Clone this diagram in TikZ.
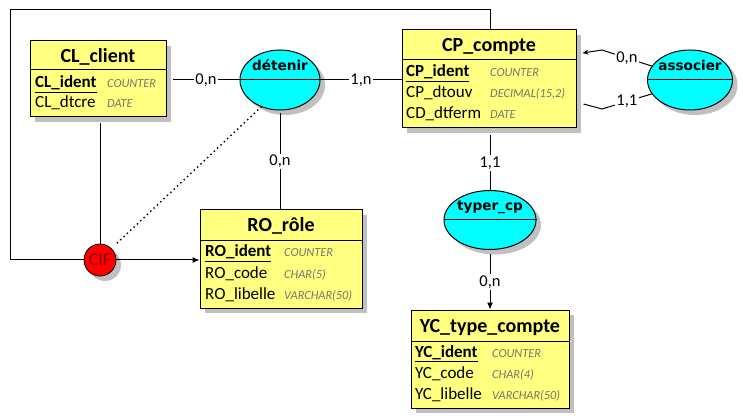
\documentclass[tikz,border=0pt]{standalone}
\usepackage{fontspec}
\setmainfont{Carlito}
\newfontfamily\assocfont{DejaVu Sans}
\usetikzlibrary{shapes.geometric,shadows,arrows.meta,calc}
\definecolor{entfill}{RGB}{255,255,128}
\definecolor{assocfill}{RGB}{0,255,255}
\definecolor{ciffill}{RGB}{255,0,0}
\definecolor{ciftext}{RGB}{140,0,0}
\definecolor{typegray}{RGB}{118,118,110}
\definecolor{shadowgray}{RGB}{192,192,192}
\begin{document}
\begin{tikzpicture}[x=1pt,y=-1pt,
  shadowed/.style={drop shadow={shadow xshift=5pt,shadow yshift=-5pt,fill=shadowgray,opacity=1}},
  entity/.style={rectangle,draw=black,line width=1pt,fill=entfill,inner sep=0pt,shadowed},
  sep/.style={line width=1pt},
  etitle/.style={anchor=base,inner sep=0pt,font=\bfseries\fontsize{20}{22}\selectfont},
  attr/.style={anchor=base west,inner sep=0pt,font=\fontsize{17}{19}\selectfont},
  ident/.style={attr,font=\bfseries\fontsize{17}{19}\selectfont},
  typ/.style={anchor=base west,inner sep=0pt,text=typegray,font=\itshape\fontsize{12.3}{13}\selectfont},
  assoc/.style={ellipse,draw=black,line width=1pt,fill=assocfill,inner sep=0pt,shadowed},
  aname/.style={anchor=base,inner sep=0pt,font=\assocfont\bfseries\fontsize{13.6}{15}\selectfont},
  card/.style={fill=white,inner sep=1.5pt,font=\fontsize{16.5}{18}\selectfont},
  link/.style={line width=1pt},
  cifnode/.style={circle,draw=black,line width=0.8pt,fill=ciffill,minimum size=32pt,inner sep=0pt,shadowed,text=ciftext,font=\fontsize{18}{20}\selectfont}
]
\useasboundingbox[fill=white] (0,0) rectangle (743,419);

% ---------- entities ----------
% CL_client
\node[entity,minimum width=136pt,minimum height=76pt] (cl) at (98,79) {};
\draw[sep] (cl.west |- 0,70) -- (cl.east |- 0,70);
\node[etitle] (cltitle) at (98,63) {CL\_client};
\node[ident] (clid) at (35,88) {\underline{CL\_ident}};
\node[typ] (clidt) at (107,88) {COUNTER};
\node[attr] (cldt) at (35,108) {CL\_dtcre};
\node[typ] (cldtt) at (107,108) {DATE};

% CP_compte
\node[entity,minimum width=174pt,minimum height=98pt] (cp) at (489,79) {};
\draw[sep] (cp.west |- 0,60) -- (cp.east |- 0,60);
\node[etitle] (cptitle) at (489,52) {CP\_compte};
\node[ident] (cpid) at (406,77) {\underline{CP\_ident}};
\node[typ] (cpidt) at (490,77) {COUNTER};
\node[attr] (cpou) at (406,98) {CP\_dtouv};
\node[typ] (cpout) at (490,98) {DECIMAL(15,2)};
\node[attr] (cpfe) at (406,119) {CD\_dtferm};
\node[typ] (cpfet) at (490,119) {DATE};

% RO_role
\node[entity,minimum width=162pt,minimum height=98pt] (ro) at (281,259) {};
\draw[sep] (ro.west |- 0,241) -- (ro.east |- 0,241);
\node[etitle] (rotitle) at (281,232) {RO\_rôle};
\node[ident] (roid) at (205,257) {\underline{RO\_ident}};
\node[typ] (roidt) at (284,257) {COUNTER};
\node[attr] (roco) at (205,278) {RO\_code};
\node[typ] (rocot) at (284,278) {CHAR(5)};
\node[attr] (roli) at (205,299) {RO\_libelle};
\node[typ] (rolit) at (284,299) {VARCHAR(50)};

% YC_type_compte
\node[entity,minimum width=158pt,minimum height=98pt] (yc) at (490,359) {};
\draw[sep] (yc.west |- 0,341) -- (yc.east |- 0,341);
\node[etitle] (yctitle) at (490,332) {YC\_type\_compte};
\node[ident] (ycid) at (415,357) {\underline{YC\_ident}};
\node[typ] (ycidt) at (492,357) {COUNTER};
\node[attr] (ycco) at (415,378) {YC\_code};
\node[typ] (yccot) at (492,378) {CHAR(4)};
\node[attr] (ycli) at (415,399) {YC\_libelle};
\node[typ] (yclit) at (492,399) {VARCHAR(50)};

% ---------- associations ----------
\node[assoc,minimum width=80pt,minimum height=60pt] (det) at (280,80) {};
\draw[sep] (det.west) -- (det.east);
\node[aname] (detname) at (280,71) {détenir};

\node[assoc,minimum width=85pt,minimum height=60pt] (asc) at (690,80) {};
\draw[sep] (asc.west) -- (asc.east);
\node[aname] (ascname) at (690,71) {associer};

\node[assoc,minimum width=92pt,minimum height=59pt] (typ) at (490,220) {};
\draw[sep] (typ.west) -- (typ.east);
\node[aname] (typname) at (490,211) {typer\_cp};

% CIF
\node[cifnode] (cif) at (100,260) {CIF};

% ---------- connectors ----------
\draw[link] ($(cl.east)+(6,1)$) -- node[card] (c1) {0,n} (det.west);
\draw[link] (det.east) -- node[card] (c2) {1,n} (cp.west |- det.east);
\draw[link] ($(det.south)+(0,3)$) -- node[card] (c3) {0,n} (ro.north -| det.south);
\draw[link] ($(cp.south)+(1,7)$) -- node[card] (c4) {1,1} (typ.north);
\draw[link,-{Latex[length=7pt,width=6pt]}] ($(typ.south)+(0,4)$) -- node[card] (c5) {0,n} (yc.north);

\coordinate (cpa0) at ($(cp.east)+(6,-26)$);
\coordinate (cpa1) at ($(cp.east)+(7,25)$);
\draw[link,-{Stealth[length=6pt,width=5pt]}] (asc.160) -- node[card] (c6) {0,n} (602,50) -- (cpa0);
\draw[link] (cpa1) -- (602,109) -- node[card] (c7) {1,1} (asc.200);

\draw[link] ($(cl.south)+(2,6)$) -- (cif.north);
\draw[link,-{Latex[length=7pt,width=6pt]}] (cif.east) -- (cif.east -| ro.west);
\draw[link] (cif.west) -- (10,260) -- (10,10) -| ($(cp.north)+(1,0)$);
\draw[line width=2pt,line cap=round,dash pattern=on 0pt off 4.6pt] (det.235) -- ($(cif.45)+(3,-3)$);
\end{tikzpicture}
\end{document}
